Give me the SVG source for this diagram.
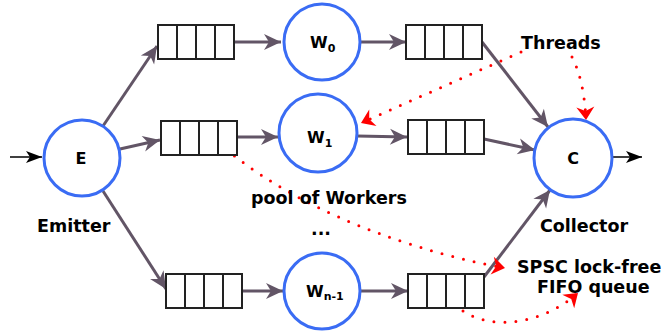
<svg xmlns="http://www.w3.org/2000/svg" width="664" height="333" viewBox="0 0 664 333">
<defs>
<style>
.node{fill:#fff;stroke:#3a6cf4;stroke-width:3}
.lbl{font-family:"DejaVu Sans",sans-serif;font-weight:bold;font-size:17.5px;fill:#000}
.nl{font-family:"DejaVu Sans",sans-serif;font-weight:bold;font-size:16px;fill:#000}
.sub{font-size:11px}
.conn{stroke:#625566;stroke-width:3;fill:none;marker-end:url(#ah)}
.io{stroke:#000;stroke-width:1.5;fill:none;marker-end:url(#bh)}
.dot{stroke:#ff0000;stroke-width:3;fill:none;stroke-dasharray:0 11;stroke-linecap:round;marker-end:url(#rh)}
</style>
<marker id="ah" markerUnits="userSpaceOnUse" markerWidth="20" markerHeight="18" refX="17" refY="8" orient="auto" overflow="visible">
<path d="M0,0 L17,8 L0,16 L5,8 z" fill="#625566"/>
</marker>
<marker id="bh" markerUnits="userSpaceOnUse" markerWidth="20" markerHeight="14" refX="16" refY="6" orient="auto" overflow="visible">
<path d="M0,0 L16,6 L0,12 L4,6 z" fill="#000"/>
</marker>
<marker id="rh" markerUnits="userSpaceOnUse" markerWidth="16" markerHeight="20" refX="13" refY="9" orient="auto" overflow="visible">
<path d="M0,0 L13,9 L0,18 L4,9 z" fill="#ff0000"/>
</marker>
<g id="queue" fill="#fff" stroke="#222" stroke-width="2">
<rect x="0" y="0" width="76" height="34"/>
<line x1="19" y1="0" x2="19" y2="34"/>
<line x1="38" y1="0" x2="38" y2="34"/>
<line x1="57" y1="0" x2="57" y2="34"/>
</g>
</defs>
<rect width="664" height="333" fill="#fff"/>

<g id="connectors">
<line class="io" x1="10" y1="157" x2="42" y2="157"/>
<line class="io" x1="612" y1="157" x2="642" y2="157"/>
<line class="conn" x1="103" y1="126" x2="157" y2="46"/>
<line class="conn" x1="120" y1="149" x2="160" y2="140"/>
<line class="conn" x1="103" y1="191" x2="166" y2="289"/>
<line class="conn" x1="234" y1="42" x2="281" y2="42"/>
<line class="conn" x1="360" y1="42" x2="406" y2="42"/>
<line class="conn" x1="482" y1="42" x2="548" y2="127"/>
<line class="conn" x1="237" y1="137" x2="278" y2="137"/>
<line class="conn" x1="357" y1="136" x2="407" y2="137"/>
<line class="conn" x1="484" y1="139" x2="535" y2="150"/>
<line class="conn" x1="242" y1="291" x2="283" y2="291"/>
<line class="conn" x1="360" y1="291" x2="408" y2="291"/>
<line class="conn" x1="484" y1="277" x2="550" y2="190"/>
<path class="dot" d="M521,52 L361,123"/>
<path class="dot" d="M572,57 Q584,80 586,120"/>
<path class="dot" d="M226,149 C280,195 380,245 505,268"/>
<path class="dot" d="M463,311 C495,332 545,322 578,293"/>
</g>

<g id="q-top-left"><use href="#queue" x="158" y="25"/></g>
<g id="q-top-right"><use href="#queue" x="406" y="25"/></g>
<g id="q-mid-left"><use href="#queue" x="161" y="121"/></g>
<g id="q-mid-right"><use href="#queue" x="408" y="120"/></g>
<g id="q-bot-left"><use href="#queue" x="166" y="274"/></g>
<g id="q-bot-right"><use href="#queue" x="408" y="274"/></g>

<g id="emitter">
<circle class="node" cx="82" cy="158" r="38"/>
<text class="nl" x="81" y="164" text-anchor="middle">E</text>
</g>
<g id="w0">
<circle class="node" cx="322" cy="42" r="38"/>
<text class="nl" x="310" y="48">W<tspan class="sub" dy="4">0</tspan></text>
</g>
<g id="w1">
<circle class="node" cx="318" cy="133" r="39"/>
<text class="nl" x="307" y="143">W<tspan class="sub" dy="4">1</tspan></text>
</g>
<g id="wn1">
<circle class="node" cx="322" cy="291" r="38"/>
<text class="nl" x="306" y="297">W<tspan class="sub" dy="3">n-1</tspan></text>
</g>
<g id="collector">
<circle class="node" cx="573" cy="158" r="39"/>
<text class="nl" x="573" y="164" text-anchor="middle">C</text>
</g>

<text class="lbl" x="37" y="232">Emitter</text>
<text class="lbl" x="540" y="232">Collector</text>
<text class="lbl" x="521" y="49">Threads</text>
<text class="lbl" x="251" y="204">pool of Workers</text>
<text class="lbl" x="321" y="235" text-anchor="middle">...</text>
<text class="lbl" x="517" y="273">SPSC lock-free</text>
<text class="lbl" x="537" y="293">FIFO queue</text>
</svg>
